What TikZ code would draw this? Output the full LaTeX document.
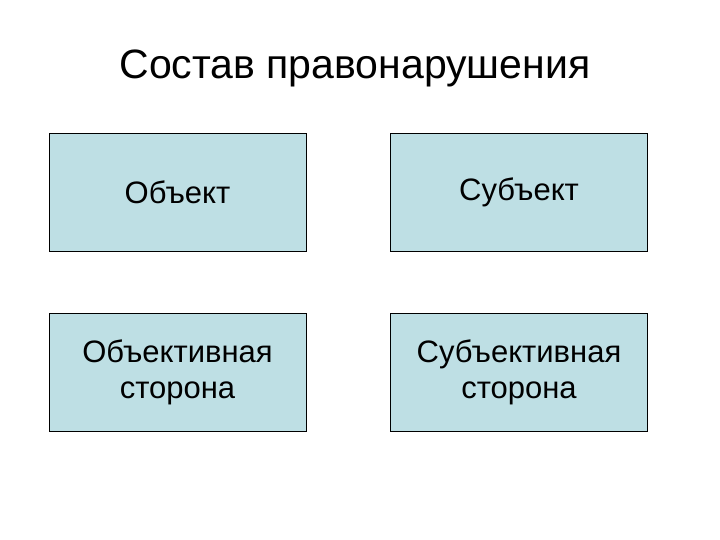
\documentclass[tikz,border=0pt]{standalone}
\usepackage{fontspec}
\setmainfont{Liberation Sans}
\definecolor{boxfill}{RGB}{190,223,228}
\begin{document}
\begin{tikzpicture}[x=1pt,y=-1pt,
  cell/.style={draw=black,line width=0.8pt,fill=boxfill,minimum width=257pt,minimum height=118pt,
    font=\fontsize{31}{36}\selectfont,align=center,inner sep=0pt}]
\useasboundingbox (0,0) rectangle (720,540);
\node (title) at (355,68) {\fontsize{41}{48}\selectfont Состав правонарушения};
\node[cell] (a) at (177.5,192) {Объект};
\node[cell] (b) at (519,192) {Субъект};
\node[cell] (c) at (177.5,372) {Объективная\\сторона};
\node[cell] (d) at (519,372) {Субъективная\\сторона};
\end{tikzpicture}
\end{document}
